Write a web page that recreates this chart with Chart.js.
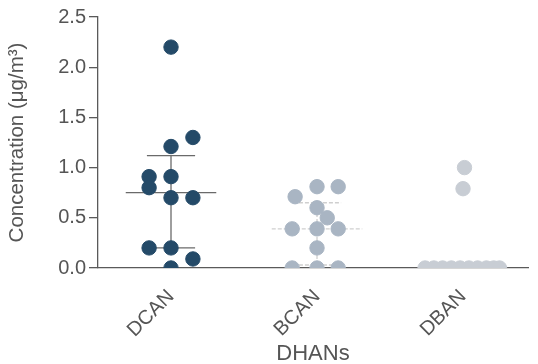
<!DOCTYPE html>
<html>
<head>
<meta charset="utf-8">
<script src="https://cdn.jsdelivr.net/npm/chart.js@4/dist/chart.umd.min.js"></script>
<style>
  html, body { margin: 0; padding: 0; background: #fff; }
  #wrap { width: 538px; height: 364px; }
</style>
</head>
<body>
<div id="wrap"><canvas id="chart"></canvas></div>
<script>
// ---------------------------------------------------------------------------
// Data
// ---------------------------------------------------------------------------
const categories = ['DCAN', 'BCAN', 'DBAN'];

const dcanValues = [2.2, 1.3, 1.21, 0.91, 0.91, 0.8, 0.7, 0.7, 0.2, 0.2, 0.09, 0.0];
const dcanJitter = [0, 0.15, 0, -0.15, 0, -0.15, 0, 0.15, -0.15, 0, 0.15, 0];

const bcanValues = [0.81, 0.81, 0.71, 0.6, 0.5, 0.39, 0.39, 0.39, 0.2, 0, 0, 0];
const bcanJitter = [0, 0.145, -0.15, 0, 0.07, -0.17, 0, 0.145, 0, -0.17, 0, 0.145];

const dbanValues = [1.0, 0.79, 0, 0, 0, 0, 0, 0, 0, 0, 0, 0];
const dbanJitter = [0.01, 0, -0.26, -0.2, -0.14, -0.08, -0.02, 0.04, 0.1, 0.16, 0.21, 0.25];

// central line and whiskers per category (null = not drawn)
const centerLine = [0.75, 0.39, null];
const upperBar = [1.12, 0.65, null];
const lowerBar = [0.2, 0.03, null];

const yTicks = [0, 0.5, 1.0, 1.5, 2.0, 2.5];

// ---------------------------------------------------------------------------
// Styles
// ---------------------------------------------------------------------------
const FONT = "'Liberation Sans', Arial, sans-serif";
const AXIS = '#5a5a5a';
const TEXT = '#555';
const pointColors = ['#244a68', '#a9b5c3', '#c8cdd4'];
const lineColors = ['#6a6a6a', '#cfcfcf'];
const MEAN_HALF = 0.31;
const CAP_HALF = 0.165;

function scatter(values, jitter, idx) {
  return {
    type: 'scatter',
    data: values.map((v, i) => ({ x: idx + jitter[i], y: v })),
    backgroundColor: pointColors[idx],
    borderColor: pointColors[idx],
    pointRadius: 7.2,
    pointHoverRadius: 7.2,
    order: 0
  };
}

function segment(x0, x1, y0, y1, color, dash) {
  return {
    type: 'line',
    data: [{ x: x0, y: y0 }, { x: x1, y: y1 }],
    borderColor: color,
    borderWidth: 1.3,
    borderDash: dash || [],
    pointRadius: 0,
    fill: false,
    order: 1
  };
}

const datasets = [
  scatter(dcanValues, dcanJitter, 0),
  scatter(bcanValues, bcanJitter, 1),
  scatter(dbanValues, dbanJitter, 2)
];

centerLine.forEach((m, i) => {
  if (m === null) return;
  const c = lineColors[i];
  const dash = i === 1 ? [4, 2] : [];
  datasets.push(segment(i - MEAN_HALF, i + MEAN_HALF, m, m, c, dash));
  datasets.push(segment(i, i, lowerBar[i], upperBar[i], c, dash));
  datasets.push(segment(i - CAP_HALF, i + CAP_HALF, upperBar[i], upperBar[i], c, dash));
  datasets.push(segment(i - CAP_HALF, i + CAP_HALF, lowerBar[i], lowerBar[i], c, dash));
});

new Chart(document.getElementById('chart'), {
  type: 'scatter',
  data: { datasets },
  options: {
    responsive: true,
    maintainAspectRatio: false,
    animation: false,
    layout: { padding: { top: 17, right: 10, left: 3, bottom: 0 } },
    plugins: { legend: { display: false }, tooltip: { enabled: false } },
    scales: {
      x: {
        type: 'linear',
        min: -0.5,
        max: 2.445,
        afterBuildTicks: (axis) => { axis.ticks = categories.map((_, i) => ({ value: i })); },
        afterFit: (axis) => { axis.height = 96; },
        grid: { display: false },
        border: { display: true, color: AXIS, width: 1.3 },
        ticks: {
          callback: (v) => categories[v],
          color: TEXT,
          font: { family: FONT, size: 20 },
          minRotation: 45,
          maxRotation: 45,
          padding: 9
        },
        title: {
          display: true,
          text: 'DHANs',
          color: TEXT,
          font: { family: FONT, size: 22 },
          padding: { top: 0, bottom: -3 }
        }
      },
      y: {
        min: 0,
        max: 2.5,
        afterBuildTicks: (axis) => { axis.ticks = yTicks.map(v => ({ value: v })); },
        afterFit: (axis) => { axis.width = 95; },
        grid: {
          display: true,
          drawOnChartArea: false,
          drawTicks: true,
          tickLength: 9,
          color: AXIS,
          lineWidth: 1.3
        },
        border: { display: true, color: AXIS, width: 1.3 },
        ticks: {
          callback: (v) => v.toFixed(1),
          color: TEXT,
          font: { family: FONT, size: 20 },
          padding: 3
        },
        title: {
          display: true,
          text: 'Concentration (μg/m³)',
          color: TEXT,
          font: { family: FONT, size: 20.5 },
          padding: { top: 2, bottom: 0 }
        }
      }
    }
  }
});
</script>
</body>
</html>
